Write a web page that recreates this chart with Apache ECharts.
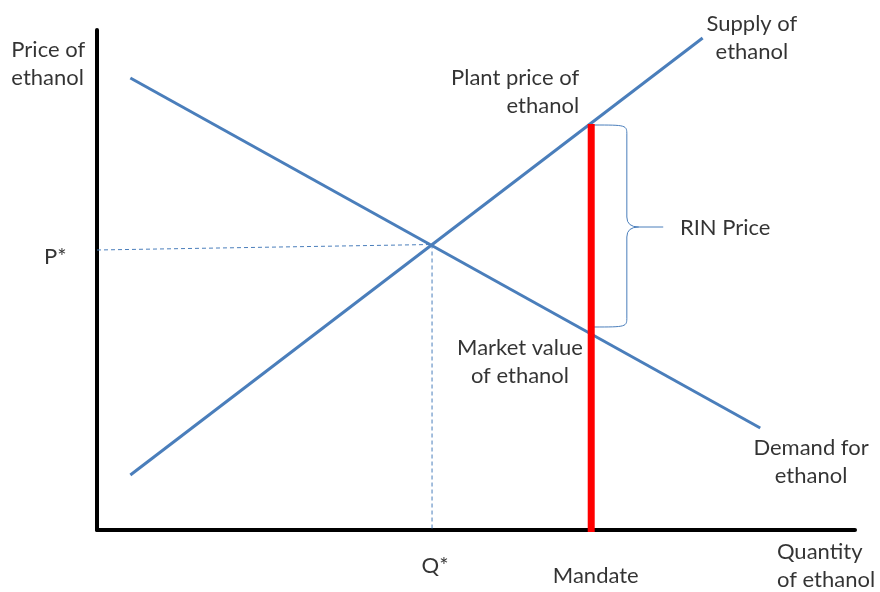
<!DOCTYPE html>
<html>
<head>
<meta charset="utf-8">
<script src="https://cdn.jsdelivr.net/npm/echarts@6/dist/echarts.min.js"></script>
<style>
  html, body { margin: 0; padding: 0; background: #fff; }
  #main { width: 880px; height: 592px; }
</style>
</head>
<body>
<div id="main"></div>
<script>
// curves, in chart units (x: quantity 0-100, y: price 0-100)
var demand = [[4.4, 90.4], [87.5, 20.4]];
var supply = [[4.4, 11], [79.9, 98.4]];
var pStarLine = [[0, 56], [44.2, 57.1]];
var qStarLine = [[44.2, 57.1], [44.2, 0]];
var mandate = [[65.2, -0.4], [65.2, 81.2]];
// brace: x of red line, top, bottom, bulge x, tip x, tip y
var brace = [[65.2, 81, 40.6, 69.9, 74.7, 60.6]];

// text annotations
var labelText = ['Price of\nethanol', 'P*', 'Plant price of\nethanol', 'Supply of\nethanol',
  'RIN Price', 'Market value\nof ethanol', 'Demand for\nethanol', 'Q*', 'Mandate', 'Quantity\nof ethanol'];
var labelX = [-11.3, -5.5, 63.6, 86.4, 76.9, 55.8, 94.2, 44.6, 65.8, 89.7];
var labelY = [93.2, 54.6, 87.6, 98.4, 60.4, 33.6, 13.6, -7.2, -9.2, -7.2];
var labelAlign = ['left', 'center', 'right', 'center', 'left', 'center', 'center', 'center', 'center', 'left'];

var BLUE = '#4a7ebb';

var chart = echarts.init(document.getElementById('main'));

var labelData = labelText.map(function (t, i) {
  return {
    value: [labelX[i], labelY[i]],
    label: { formatter: t, align: labelAlign[i] }
  };
});

function lineSeries(data, color, width, type) {
  return {
    type: 'line',
    data: data,
    symbol: 'none',
    silent: true,
    animation: false,
    clip: false,
    lineStyle: { color: color, width: width, type: type || 'solid' }
  };
}

var option = {
  animation: false,
  grid: { left: 97, right: 25, top: 30, bottom: 62 },
  xAxis: {
    type: 'value', min: 0, max: 100,
    axisLine: { lineStyle: { color: '#000', width: 4 } },
    axisTick: { show: false }, axisLabel: { show: false }, splitLine: { show: false }
  },
  yAxis: {
    type: 'value', min: 0, max: 100,
    axisLine: { lineStyle: { color: '#000', width: 4 } },
    axisTick: { show: false }, axisLabel: { show: false }, splitLine: { show: false }
  },
  series: [
    lineSeries(pStarLine, BLUE, 1, [4, 3]),
    lineSeries(qStarLine, BLUE, 1, [4, 3]),
    lineSeries(demand, BLUE, 3),
    lineSeries(supply, BLUE, 3),
    Object.assign(lineSeries(mandate, '#ff0000', 7), { z: 5 }),
    {
      type: 'custom',
      silent: true,
      clip: false,
      data: brace,
      renderItem: function (params, api) {
        var top = api.coord([api.value(0), api.value(1)]);
        var bot = api.coord([api.value(0), api.value(2)]);
        var xb = api.coord([api.value(3), 0])[0];
        var xt = api.coord([api.value(4), 0])[0];
        var ym = api.coord([0, api.value(5)])[1];
        var x0 = top[0] + 2, y0 = top[1], y1 = bot[1];
        var d = 'M' + x0 + ' ' + y0 + ' C' + xb + ' ' + y0 + ' ' + xb + ' ' + y0 + ' ' + xb + ' ' + (y0 + 10) +
          ' L' + xb + ' ' + (ym - 10) + ' Q' + xb + ' ' + ym + ' ' + (xb + 12) + ' ' + ym +
          ' L' + xt + ' ' + ym +
          ' M' + (xb + 12) + ' ' + ym + ' Q' + xb + ' ' + ym + ' ' + xb + ' ' + (ym + 10) +
          ' L' + xb + ' ' + (y1 - 10) + ' C' + xb + ' ' + y1 + ' ' + xb + ' ' + y1 + ' ' + x0 + ' ' + y1;
        return {
          type: 'path',
          shape: { pathData: d },
          style: { stroke: BLUE, fill: null, lineWidth: 1 }
        };
      }
    },
    {
      type: 'scatter',
      silent: true,
      clip: false,
      symbolSize: 0,
      data: labelData,
      label: {
        show: true,
        position: 'inside',
        color: '#000',
        fontFamily: 'Lato',
        fontSize: 22,
        lineHeight: 28,
        verticalAlign: 'middle'
      }
    }
  ]
};

chart.setOption(option);
</script>
</body>
</html>
